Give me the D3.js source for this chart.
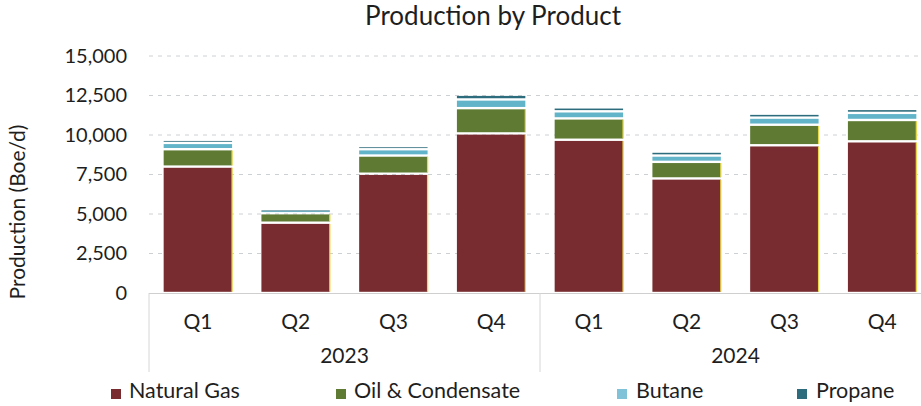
<!DOCTYPE html>
<html>
<head>
  <meta charset="UTF-8">
  <title>Production by Product</title>
  <script src="https://d3js.org/d3.v7.min.js"></script>
  <style>
    body {
      margin: 0;
      padding: 0;
      background-color: #ffffff;
      font-family: Lato, 'Open Sans', sans-serif;
    }
    svg text {
      fill: #1e1e1e;
    }
  </style>
</head>
<body>
  <svg id="chart" width="921" height="406"></svg>
  <script>
    // data (Boe/d)
    const quarters = ["Q1", "Q2", "Q3", "Q4", "Q1", "Q2", "Q3", "Q4"];
    const years = ["2023", "2024"];
    const naturalGas = [8000, 4450, 7550, 10100, 9700, 7250, 9350, 9600];
    const oilCondensate = [1100, 600, 1150, 1600, 1350, 1050, 1300, 1350];
    const butane = [400, 200, 400, 550, 450, 400, 450, 450];
    const propane = [200, 50, 200, 300, 250, 250, 250, 250];
    const seriesNames = ["Natural Gas", "Oil & Condensate", "Butane", "Propane"];
    const seriesColors = ["#782c2f", "#5e7a33", "#62b4c9", "#2d6c7c"];
    const yTicks = [0, 2500, 5000, 7500, 10000, 12500, 15000];

    const svg = d3.select("#chart");
    const mLeft = 149, mRight = 931, mTop = 56, mBottom = 293;

    const rows = quarters.map(function(q, i) {
      return {
        key: i,
        "Natural Gas": naturalGas[i],
        "Oil & Condensate": oilCondensate[i],
        "Butane": butane[i],
        "Propane": propane[i]
      };
    });

    const x = d3.scaleBand()
      .domain(d3.range(quarters.length))
      .range([mLeft, mRight])
      .paddingInner(0.3)
      .paddingOuter(0.15);

    const y = d3.scaleLinear()
      .domain([0, 15000])
      .range([mBottom, mTop]);

    const color = d3.scaleOrdinal().domain(seriesNames).range(seriesColors);

    // title
    svg.append("text")
      .attr("x", 493)
      .attr("y", 25)
      .attr("text-anchor", "middle")
      .style("font-size", "26px")
      .text("Production by Product");

    // gridlines
    svg.append("g")
      .selectAll("line")
      .data(yTicks.filter(function(d) { return d > 0; }))
      .join("line")
      .attr("x1", mLeft)
      .attr("x2", 921)
      .attr("y1", function(d) { return y(d); })
      .attr("y2", function(d) { return y(d); })
      .attr("stroke", "#ccd0d3")
      .attr("stroke-width", 1)
      .attr("stroke-dasharray", "4,5");

    // y axis
    const yAxis = svg.append("g")
      .attr("transform", `translate(${mLeft},0)`)
      .call(d3.axisLeft(y).tickValues(yTicks).tickSize(0).tickPadding(22).tickFormat(d3.format(",")));
    yAxis.select(".domain").remove();
    yAxis.selectAll("text")
      .style("font-size", "20px")
      .style("font-family", "Lato, sans-serif")
      .attr("fill", "#1e1e1e");

    svg.append("text")
      .attr("transform", "translate(25,212) rotate(-90)")
      .attr("text-anchor", "middle")
      .style("font-size", "21px")
      .text("Production (Boe/d)");

    // stacked bars
    const stacked = d3.stack().keys(seriesNames)(rows);

    const layers = svg.append("g")
      .selectAll("g")
      .data(stacked)
      .join("g")
      .attr("fill", function(d) { return color(d.key); });

    layers.selectAll("rect")
      .data(function(d) { return d; })
      .join("rect")
      .attr("x", function(d) { return x(d.data.key); })
      .attr("width", x.bandwidth())
      .attr("y", function(d) { return y(d[1]) + 1.2; })
      .attr("height", function(d) { return Math.max(0.8, y(d[0]) - y(d[1]) - 2.4); });

    // thin yellow edge on right side of lower two segments (as in the print)
    svg.append("g")
      .selectAll("line")
      .data(stacked.slice(0, 2).flatMap(function(s) { return s; }))
      .join("line")
      .attr("x1", function(d) { return x(d.data.key) + x.bandwidth(); })
      .attr("x2", function(d) { return x(d.data.key) + x.bandwidth(); })
      .attr("y1", function(d) { return y(d[1]) + 1.2; })
      .attr("y2", function(d) { return y(d[0]) - 1.2; })
      .attr("stroke", "#e8d84a")
      .attr("stroke-width", 1.3);

    // baseline
    svg.append("line")
      .attr("x1", mLeft)
      .attr("x2", 921)
      .attr("y1", y(0) + 0.5)
      .attr("y2", y(0) + 0.5)
      .attr("stroke", "#cfcfcf")
      .attr("stroke-width", 1.2);

    // quarter labels
    svg.append("g")
      .selectAll("text")
      .data(quarters)
      .join("text")
      .attr("x", function(d, i) { return x(i) + x.bandwidth() / 2; })
      .attr("y", 329)
      .attr("text-anchor", "middle")
      .style("font-size", "21px")
      .text(function(d) { return d; });

    // year group labels and separators
    const groupWidth = x.step() * 4;
    svg.append("g")
      .selectAll("text")
      .data(years)
      .join("text")
      .attr("x", function(d, i) { return mLeft + groupWidth * i + groupWidth / 2; })
      .attr("y", 363)
      .attr("text-anchor", "middle")
      .style("font-size", "21px")
      .text(function(d) { return d; });

    svg.append("g")
      .selectAll("line")
      .data([0, 1, 2])
      .join("line")
      .attr("x1", function(d) { return mLeft + groupWidth * d; })
      .attr("x2", function(d) { return mLeft + groupWidth * d; })
      .attr("y1", y(0))
      .attr("y2", 372)
      .attr("stroke", "#d6d6d6")
      .attr("stroke-width", 1);

    // legend
    const legendX = [111, 336, 617, 797];
    const legend = svg.append("g")
      .selectAll("g")
      .data(seriesNames)
      .join("g")
      .attr("transform", function(d, i) { return `translate(${legendX[i]},389)`; });

    legend.append("rect")
      .attr("width", 10)
      .attr("height", 10)
      .attr("fill", function(d) { return d === "Butane" ? "#80c2d8" : color(d); });

    legend.append("text")
      .attr("x", function(d, i) { return i < 2 ? 18 : 19; })
      .attr("y", 9)
      .style("font-size", "21.5px")
      .text(function(d) { return d; });
  </script>
</body>
</html>
